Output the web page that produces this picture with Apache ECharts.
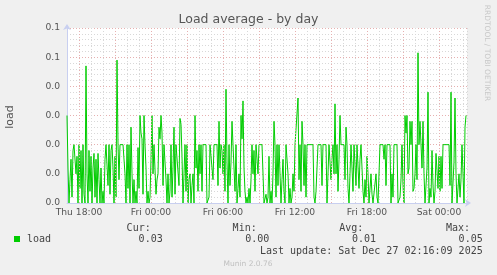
<!DOCTYPE html>
<html><head><meta charset="utf-8">
<script src="https://cdn.jsdelivr.net/npm/echarts@6/dist/echarts.min.js"></script>
<style>html,body{margin:0;padding:0;background:#f0f0f0}#c{width:497px;height:275px}</style>
</head><body><div id="c"></div>
<script>
// time: hours since Thu 00:00, one sample every 5 minutes from Thu 17:00
const startHour = 17;
const stepHours = 5 / 60;
const endHour = 17 + 400 / 12;
const loadValues = [
 .03,.012,0,.008,.015,.002,.018,.02,.02,.01,
 .016,0,.02,.005,.018,0,.02,.003,0,.047,
 .01,0,.018,.004,.016,0,.012,.017,.002,.015,
 0,.017,.008,0,.012,0,.004,0,.015,.02,
 .02,.006,.02,.003,.018,.02,.012,0,.016,.002,
 .049,.02,.008,.02,.02,.02,.02,.02,.01,0,
 .02,.005,.02,0,.026,.01,0,.008,0,.004,
 0,.019,.005,.03,.024,.022,.003,.03,.02,.012,
 0,.004,0,.002,.015,.03,.01,.02,.02,.003,
 .008,.01,.026,.022,.03,.024,.006,.02,.02,.008,
 0,.01,0,.004,.02,.002,.012,.026,.003,.02,
 .02,.02,.006,.029,.027,.016,0,.01,.02,.004,
 .02,0,.008,.01,0,.006,.01,0,.03,.012,
 .018,.004,.02,.01,.02,.004,.02,.02,.02,.02,
 0,0,.002,.02,.02,.02,.008,.02,.02,.02,
 .02,.006,.028,.012,.02,.018,.01,.02,.004,.039,
 .014,0,.02,.006,.014,.028,.02,.02,.004,.02,
 0,.005,.01,.002,.03,.022,.035,.012,.004,0,
 .002,0,.005,0,.008,.02,.01,.018,.004,.02,
 .02,.01,.02,.02,.02,.02,.02,0,0,.003,
 0,.002,.016,0,.004,0,.01,.028,.02,.002,
 .02,.006,.02,.02,0,.008,.015,.004,0,.02,
 .02,.01,0,.005,0,.002,.01,.004,.02,.02,
 .02,.036,.008,.02,.004,.028,.02,.006,.02,.002,
 .02,.02,.02,.02,.02,.02,.02,.002,0,.004,
 .012,.02,.02,.02,.02,.006,.02,.02,.02,.02,
 0,0,.02,.02,.008,.015,.02,.01,.034,.01,
 .02,.004,.015,.03,.02,.02,.02,.02,.008,.026,
 .02,.005,0,.01,.02,.02,.004,.02,.02,.006,
 .02,.02,.005,.015,.02,.02,.004,0,.008,.002,
 .016,.01,0,0,.01,.003,0,0,0,.01,
 .002,0,0,.02,.02,.02,.02,.015,.02,.006,
 .02,.02,.02,.02,0,.01,.002,.02,.02,.02,
 .02,0,0,.002,.008,.02,.006,0,.03,.024,
 .03,.01,.012,.028,.02,.028,.004,.005,.01,.02,
 .008,.0515,.02,.028,.028,.012,.028,.01,0,0,
 .012,.038,0,.005,.002,.018,.006,0,.004,.017,
 .017,.005,.016,.004,.016,.005,.02,.02,.02,.02,
 .02,.02,.02,.006,.038,0,0,.014,.036,.01,
 0,0,.01,.002,.008,.02,.02,0,.026,.03
];
const xTickHours = [18, 24, 30, 36, 42, 48];
const xTickLabels = ['Thu 18:00','Fri 00:00','Fri 06:00','Fri 12:00','Fri 18:00','Sat 00:00'];
const majorGridHours = [18, 21, 24, 27, 30, 33, 36, 39, 42, 45, 48];
const yTickLabels = ['0.0','0.0','0.0','0.0','0.0','0.1','0.1'];
const legendName = 'load';
const statHeads = ['Cur:','Min:','Avg:','Max:'];
const statValues = ['0.03','0.00','0.01','0.05'];
const lastUpdate = 'Last update: Sat Dec 27 02:16:09 2025';

const seriesData = loadValues.map((v, i) => [startHour + i * stepHours, v]);
const red = '#e6b0b0', gray = '#d8d8d8', axisC = '#c8cff0', txt = '#555';
const mono = 'DejaVu Sans Mono', sans = 'DejaVu Sans';

const chart = echarts.init(document.getElementById('c'), null, {renderer: 'canvas'});
const headX = [150.7, 256.7, 363.3, 470];
const valX = [162.7, 269.3, 376, 482.7];
const graphics = [
  {type:'text', left:'center', top:13, style:{text:'Load average - by day', font:'12.5px '+sans, fill:'#555'}},
  {type:'text', x:10, y:117, rotation:Math.PI/2, style:{text:'load', font:'11px '+sans, fill:txt, align:'center', verticalAlign:'middle'}},
  {type:'text', x:487, y:53, rotation:-Math.PI/2, style:{text:'RRDTOOL / TOBI OETIKER', font:'7.5px '+sans, fill:'#c8c8c8', align:'center', verticalAlign:'middle'}},
  {type:'rect', shape:{x:14, y:236, width:6, height:6}, style:{fill:'#00cc00'}},
  {type:'text', x:27, y:239.5, style:{text:legendName, font:'10px '+mono, fill:'#444', verticalAlign:'middle'}},
  {type:'text', x:482.7, y:251.3, style:{text:lastUpdate, font:'10px '+mono, fill:'#444', align:'right', verticalAlign:'middle'}},
  {type:'text', x:248, y:264.5, style:{text:'Munin 2.0.76', font:'7.5px '+sans, fill:'#c0c0c0', align:'center', verticalAlign:'middle'}}
];
statHeads.forEach((h, k) => {
  graphics.push({type:'text', x:headX[k], y:228.5, style:{text:h, font:'10px '+mono, fill:'#444', align:'right', verticalAlign:'middle'}});
  graphics.push({type:'text', x:valX[k], y:239.5, style:{text:statValues[k], font:'10px '+mono, fill:'#444', align:'right', verticalAlign:'middle'}});
});

chart.setOption({
  backgroundColor: '#f0f0f0',
  animation: false,
  grid: {left:67, right:30, top:28, bottom:72, show:true, backgroundColor:'#ffffff', borderWidth:0},
  xAxis: {
    type:'value', min:startHour, max:endHour, interval:1,
    axisLine:{show:true, lineStyle:{color:axisC, width:1}, symbol:['none','arrow'], symbolSize:[6,6], symbolOffset:[0,4]},
    axisTick:{show:false},
    splitLine:{show:true, lineStyle:{color:gray, type:[1,2], width:1}},
    axisLabel:{customValues:xTickHours, margin:5, color:txt, fontFamily:sans, fontSize:9.2,
      formatter: v => { const k = xTickHours.indexOf(Math.round(v)); return k >= 0 ? xTickLabels[k] : ''; }}
  },
  yAxis: {
    type:'value', min:0, max:0.06, interval:0.01,
    axisLine:{show:true, onZero:false, lineStyle:{color:axisC, width:1}, symbol:['none','arrow'], symbolSize:[6,6], symbolOffset:[0,4]},
    axisTick:{show:false},
    minorTick:{show:false, splitNumber:5},
    splitLine:{show:true, lineStyle:{color:red, type:[1,2], width:1}},
    minorSplitLine:{show:true, lineStyle:{color:gray, type:[1,2], width:1}},
    axisLabel:{margin:7, color:txt, fontFamily:sans, fontSize:9.2,
      formatter: v => yTickLabels[Math.round(v / 0.01)]}
  },
  graphic: graphics,
  series: [
    {type:'line', data:[[startHour, null]], z:1, silent:true, showSymbol:false,
      markLine:{silent:true, symbol:['none','none'], label:{show:false},
        lineStyle:{color:red, type:[1,2], width:1},
        data: majorGridHours.map(h => ({xAxis:h}))}},
    {type:'line', data:seriesData, z:3, showSymbol:false, symbol:'none',
      lineStyle:{color:'#00cc00', width:1}, itemStyle:{color:'#00cc00'}}
  ]
});
</script>
</body></html>
